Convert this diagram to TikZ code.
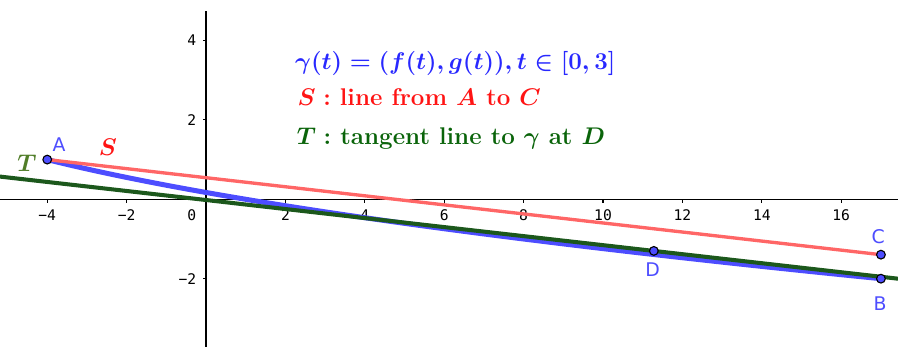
\documentclass[tikz,border=0pt]{standalone}
\usepackage{amsmath}
\usepackage{fontspec}
\usepackage{tikz}
\usetikzlibrary{positioning, calc}
\newfontfamily\ticksfont{DejaVu Sans Mono}
\newfontfamily\ptfont{DejaVu Sans}
\definecolor{curveblue}{RGB}{77, 77, 255}
\definecolor{textblue}{RGB}{40, 40, 255}
\definecolor{sred}{RGB}{255, 102, 102}
\definecolor{textred}{RGB}{255, 20, 20}
\definecolor{tgreen}{RGB}{28, 88, 28}
\definecolor{textgreen}{RGB}{10, 100, 10}
\definecolor{tlabel}{RGB}{80, 125, 40}

\begin{document}
\begin{tikzpicture}[x=1cm, y=1cm,
    axis/.style={line width=0.8pt, black},
    tick/.style={line width=0.8pt, black},
    ticklab/.style={font=\ticksfont\fontsize{10.5}{12}\selectfont, inner sep=0pt},
    ptdot/.style={circle, draw=black, line width=0.8pt, fill=curveblue, minimum size=0.22cm, inner sep=0pt},
    ptlab/.style={font=\ptfont\fontsize{13.5}{15}\selectfont, text=curveblue, inner sep=0pt},
    legend/.style={anchor=base west, inner sep=0pt, font=\fontsize{17.3}{20}\selectfont\bfseries\boldmath}
]
\useasboundingbox (-5.19,-3.72) rectangle (17.43,5.02);

% Axes
\draw[axis] (-5.19,0) -- (17.43,0);
\draw[axis] (0,-3.72) -- (0,4.74);

% Ticks and labels
\foreach \x/\lab in {-4/−4, -2/−2, 2/2, 4/4, 6/6, 8/8, 10/10, 12/12, 14/14, 16/16} {
    \draw[tick] (\x,0) -- (\x,-0.1);
    \node[ticklab] (xl\x) at (\x,-0.40) {\lab};
}
\foreach \y/\lab in {-2/−2, 2/2, 4/4} {
    \draw[tick] (0,\y) -- (-0.08,\y);
    \node[ticklab, anchor=east] (yl\y) at (-0.24,\y) {\lab};
}
\node[ticklab] (zero) at (-0.36,-0.40) {0};

% Points
\coordinate (A) at (-4,1);
\coordinate (B) at (17,-2);
\coordinate (C) at (17,-1.395);
\coordinate (D) at (11.28,-1.30);
\coordinate (Tl) at (-5.19,0.572);
\coordinate (Tr) at (17.43,-2.0);

% Curve gamma
\draw[curveblue, line width=3.6pt, line cap=round]
    plot[domain=0:3, samples=80, variable=\t] ({\t*\t+4*\t-4}, {1-\t});

% Line S and tangent T
\draw[sred, line width=2.4pt, line cap=round] (A) -- (C);
\draw[tgreen, line width=2.9pt] (Tl) -- (Tr);

% Point markers
\node[ptdot] (dA) at (A) {};
\node[ptdot] (dB) at (B) {};
\node[ptdot] (dC) at (C) {};
\node[ptdot] (dD) at (D) {};
\node[ptlab] (lA) at (-3.70,1.37) {A};
\node[ptlab] (lB) at (16.98,-2.62) {B};
\node[ptlab] (lC) at (16.93,-0.95) {C};
\node[ptlab] (lD) at (11.25,-1.78) {D};

% Line names
\node[font=\fontsize{16}{18}\selectfont, text=textred] (lS) at (-2.47,1.31) {$\boldsymbol{S}$};
\node[font=\fontsize{16}{18}\selectfont, text=tlabel] (lT) at (-4.51,0.91) {$\boldsymbol{T}$};

% Legend
\node[legend, text=textblue] (leg1) at (2.24,3.27) {$\gamma(t)=(f(t),g(t)),t\in[0,3]$};
\node[legend, text=textred] (leg2) at (2.30,2.35) {$S:$ line from $A$ to $C$};
\node[legend, text=textgreen] (leg3) at (2.28,1.37) {$T:$ tangent line to $\gamma$ at $D$};
\end{tikzpicture}
\end{document}
